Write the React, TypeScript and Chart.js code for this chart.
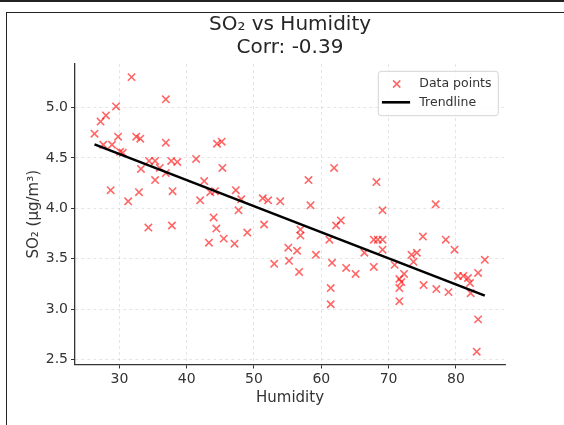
import React, { useEffect, useRef } from 'react';
import { Chart, registerables } from 'chart.js';

Chart.register(...registerables);

const humidity = [
  26.3, 27.2, 28.0, 29.5, 27.6, 28.9, 29.8, 30.1, 30.5, 28.7,
  31.8, 32.5, 33.1, 33.2, 32.9, 31.3, 34.3, 34.4, 35.3, 35.3,
  36.0, 36.9, 36.9, 36.9, 37.7, 38.6, 37.9, 37.8, 41.4, 42.0,
  42.6, 43.5, 44.2, 43.3, 44.0, 44.4, 45.5, 44.5, 45.2, 45.3,
  47.3, 47.7, 48.1, 47.1, 49.0, 51.3, 52.1, 51.5, 53.0, 53.9,
  55.1, 55.2, 56.4, 56.7, 56.9, 56.9, 58.1, 58.4, 59.2, 61.2,
  61.6, 61.4, 61.4, 61.9, 62.2, 62.9, 63.7, 65.1, 66.4, 67.8,
  67.8, 68.4, 68.2, 69.1, 69.1, 69.1, 70.9, 71.6, 71.9, 71.6,
  71.6, 72.3, 73.4, 74.2, 73.7, 75.1, 75.2, 77.0, 77.1, 78.5,
  78.9, 79.8, 80.3, 81.1, 81.8, 82.1, 82.2, 83.3, 84.3, 83.3,
  83.1,
];

const so2 = [
  4.74, 4.86, 4.92, 5.01, 4.63, 4.63, 4.71, 4.56, 4.55, 4.18,
  5.30, 4.71, 4.69, 4.39, 4.16, 4.07, 3.81, 4.47, 4.47, 4.28,
  4.40, 4.35, 5.08, 4.65, 4.47, 4.46, 4.17, 3.83, 4.49, 4.08,
  4.27, 4.16, 4.17, 3.66, 3.91, 3.80, 3.70, 4.64, 4.66, 4.40,
  4.18, 3.98, 4.09, 3.65, 3.76, 4.10, 4.08, 3.84, 3.45, 4.07,
  3.61, 3.48, 3.58, 3.37, 3.79, 3.73, 4.28, 4.03, 3.54, 3.69,
  3.46, 3.21, 3.05, 4.40, 3.83, 3.88, 3.41, 3.35, 3.56, 3.42,
  3.69, 3.69, 4.26, 3.69, 3.98, 3.59, 3.44, 3.30, 3.27, 3.21,
  3.08, 3.35, 3.54, 3.56, 3.47, 3.72, 3.24, 4.04, 3.20, 3.69,
  3.17, 3.59, 3.33, 3.33, 3.31, 3.26, 3.16, 3.36, 3.49, 2.90,
  2.58,
];

const trendHumidity = [26.3, 84.3];
const trendSo2 = [4.634, 3.135];

const xTicks = [30, 40, 50, 60, 70, 80];
const yTicks = [2.5, 3.0, 3.5, 4.0, 4.5, 5.0];

const titleLines = ['SO\u2082 vs Humidity', 'Corr: -0.39'];
const xLabel = 'Humidity';
const yLabel = 'SO\u2082 (\u03bcg/m\u00b3)';
const seriesLabels = ['Data points', 'Trendline'];

const FAMILY = '"DejaVu Sans", sans-serif';
const POINT_COLOR = 'rgba(255,0,0,0.6)';

const insideLegend = {
  id: 'insideLegend',
  afterDraw(chart: any) {
    const { ctx, chartArea } = chart;
    const w = 120;
    const h = 44.4;
    const x0 = chartArea.right - 6.7 - w;
    const y0 = chartArea.top + 7.3;
    ctx.save();
    ctx.beginPath();
    if (ctx.roundRect) ctx.roundRect(x0, y0, w, h, 3);
    else ctx.rect(x0, y0, w, h);
    ctx.fillStyle = 'rgba(255,255,255,0.8)';
    ctx.fill();
    ctx.strokeStyle = '#d4d4d4';
    ctx.lineWidth = 1;
    ctx.stroke();

    const row1 = y0 + 12.7;
    const row2 = y0 + 31;
    // marker
    const mx = x0 + 18.4;
    const r = 3.6;
    ctx.strokeStyle = POINT_COLOR;
    ctx.lineWidth = 1.6;
    ctx.beginPath();
    ctx.moveTo(mx - r, row1 - r);
    ctx.lineTo(mx + r, row1 + r);
    ctx.moveTo(mx - r, row1 + r);
    ctx.lineTo(mx + r, row1 - r);
    ctx.stroke();
    // line sample
    ctx.strokeStyle = '#000';
    ctx.lineWidth = 2.6;
    ctx.beginPath();
    ctx.moveTo(x0 + 3.6, row2);
    ctx.lineTo(x0 + 31.8, row2);
    ctx.stroke();

    ctx.fillStyle = '#333';
    ctx.font = '12.5px ' + FAMILY;
    ctx.textAlign = 'left';
    ctx.textBaseline = 'middle';
    const ds = chart.data.datasets;
    ctx.fillText(ds[0].label, x0 + 41, row1);
    ctx.fillText(ds[1].label, x0 + 41, row2);
    ctx.restore();
  },
};

export default function App() {
  const ref = useRef<HTMLCanvasElement>(null);

  useEffect(() => {
    const canvas = ref.current;
    if (!canvas) return;
    const chart = new Chart(canvas, {
      type: 'scatter',
      data: {
        datasets: [
          {
            label: seriesLabels[0],
            data: humidity.map((x, i) => ({ x, y: so2[i] })),
            pointStyle: 'crossRot',
            pointRadius: 5.2,
            pointHoverRadius: 5.2,
            pointBorderWidth: 1.6,
            borderColor: POINT_COLOR,
            backgroundColor: POINT_COLOR,
            order: 1,
          } as any,
          {
            type: 'line',
            label: seriesLabels[1],
            data: trendHumidity.map((x, i) => ({ x, y: trendSo2[i] })),
            borderColor: '#000',
            borderWidth: 2.6,
            pointRadius: 0,
            showLine: true,
            fill: false,
            order: 0,
          } as any,
        ],
      },
      options: {
        responsive: false,
        animation: false,
        devicePixelRatio: 1,
        events: [],
        layout: { padding: { left: 0, right: 59, top: 0, bottom: 0 } },
        plugins: {
          legend: { display: false },
          tooltip: { enabled: false },
          title: {
            display: true,
            text: titleLines,
            fullSize: false,
            color: '#262626',
            font: { family: FAMILY, size: 20, weight: 'normal', lineHeight: 1.15 },
            padding: { top: 13.5, bottom: 4.5 },
          },
        },
        scales: {
          x: {
            type: 'linear',
            min: 23.4,
            max: 87.3,
            afterBuildTicks: (s: any) => {
              s.ticks = xTicks.map((v) => ({ value: v }));
            },
            afterFit: (s: any) => {
              s.height = 60.5;
            },
            ticks: {
              callback: (v: any) => String(v),
              color: '#333',
              font: { family: FAMILY, size: 14 },
              padding: 2,
              autoSkip: false,
              maxRotation: 0,
            },
            grid: {
              color: 'rgba(0,0,0,0.13)',
              lineWidth: 0.8,
              tickColor: '#333',
              tickLength: 4,
              tickWidth: 1,
              tickBorderDash: [],
            },
            border: { display: true, color: '#333', width: 1.3, dash: [3, 3] },
            title: {
              display: true,
              text: xLabel,
              color: '#333',
              font: { family: FAMILY, size: 15 },
              padding: { top: 0, bottom: 17.7 },
            },
          },
          y: {
            type: 'linear',
            min: 2.453,
            max: 5.43,
            afterBuildTicks: (s: any) => {
              s.ticks = yTicks.map((v) => ({ value: v }));
            },
            afterFit: (s: any) => {
              s.width = 75;
            },
            ticks: {
              callback: (v: any) => Number(v).toFixed(1),
              color: '#333',
              font: { family: FAMILY, size: 14 },
              padding: 3,
              autoSkip: false,
            },
            grid: {
              color: 'rgba(0,0,0,0.13)',
              lineWidth: 0.8,
              tickColor: '#333',
              tickLength: 4,
              tickWidth: 1,
              tickBorderDash: [],
            },
            border: { display: true, color: '#333', width: 1.3, dash: [3, 3] },
            title: {
              display: true,
              text: yLabel,
              color: '#333',
              font: { family: FAMILY, size: 15 },
              padding: { top: 25, bottom: 0 },
            },
          },
        },
      } as any,
      plugins: [insideLegend],
    });
    return () => chart.destroy();
  }, []);

  return (
    <div
      style={{
        position: 'absolute',
        left: 0,
        top: 0,
        width: 564,
        height: 425,
        overflow: 'hidden',
        background: '#fff',
      }}
    >
      <div
        style={{
          position: 'absolute',
          left: 0,
          top: 0,
          width: 564,
          height: 2,
          background: '#222',
        }}
      />
      <div
        style={{
          position: 'absolute',
          left: 6,
          top: 12,
          width: 700,
          height: 600,
          border: '1.5px solid #222',
          boxSizing: 'border-box',
        }}
      />
      <canvas
        ref={ref}
        width={564}
        height={425}
        style={{ position: 'absolute', left: 0, top: 0, display: 'block' }}
      />
    </div>
  );
}
